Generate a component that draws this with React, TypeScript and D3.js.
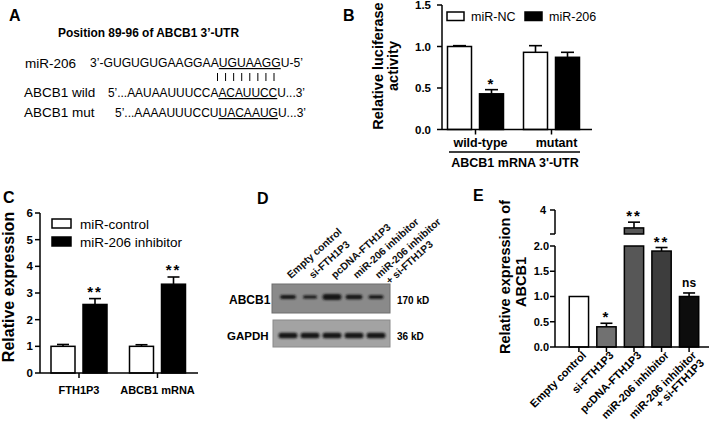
import React from 'react';
import * as d3 from 'd3';

const FONT = "'Liberation Sans', Arial, Helvetica, sans-serif";

// ---------- Panel A ----------
const aTitle = 'Position 89-96 of ABCB1 3’-UTR';
const aLabels = ['miR-206', 'ABCB1 wild', 'ABCB1 mut'];
const aSeqParts: string[][] = [
  ['3’-GUGUGUGAAGGAA', 'UGUAAGG', 'U-5’'],
  ['5’...AAUAAUUUCCA', 'ACAUUCC', 'U...3’'],
  ['5’...AAAAUUUCCU', 'UACAAUG', 'U...3’'],
];
const aPairs = 8;

// ---------- Panel B ----------
const bCategories = ['wild-type', 'mutant'];
const bSeries = ['miR-NC', 'miR-206'];
const bValues = [
  [1.0, 0.93], // miR-NC
  [0.43, 0.87], // miR-206
];
const bErrors = [
  [0.01, 0.08],
  [0.05, 0.06],
];
const bSig = [
  ['', ''],
  ['*', ''],
];
const bTicks = [0, 0.5, 1.0, 1.5];

// ---------- Panel C ----------
const cCategories = ['FTH1P3', 'ABCB1 mRNA'];
const cSeries = ['miR-control', 'miR-206 inhibitor'];
const cValues = [
  [1.0, 1.0],
  [2.57, 3.33],
];
const cErrors = [
  [0.07, 0.06],
  [0.22, 0.27],
];
const cSig = [
  ['', ''],
  ['**', '**'],
];
const cTicks = [0, 1, 2, 3, 4, 5, 6];

// ---------- Panel D ----------
const dLanes: string[][] = [
  ['Empty control'],
  ['si-FTH1P3'],
  ['pcDNA-FTH1P3'],
  ['miR-206 inhibitor'],
  ['miR-206 inhibitor', '+ si-FTH1P3'],
];
const dABCB1 = [0.55, 0.3, 1.0, 0.7, 0.45];
const dGAPDH = [1, 1, 1, 1, 1];

// ---------- Panel E ----------
const eCategories: string[][] = [
  ['Empty control'],
  ['si-FTH1P3'],
  ['pcDNA-FTH1P3'],
  ['miR-206 inhibitor'],
  ['miR-206 inhibitor', '+ si-FTH1P3'],
];
const eValues = [1.0, 0.4, 2.88, 1.9, 1.0];
const eErrors = [0, 0.07, 0.36, 0.07, 0.07];
const eSig = ['', '*', '**', '**', 'ns'];
const eColors = ['#ffffff', '#717171', '#575757', '#3d3d3d', '#0d0d0d'];
const eLowerTicks = [0, 0.5, 1.0, 1.5, 2.0];
const eUpperTicks = [4];

function ErrBar({ x, y0, y1, cap = 12 }: { x: number; y0: number; y1: number; cap?: number }) {
  return (
    <g stroke="#000" strokeWidth={1.6}>
      <line x1={x} x2={x} y1={y0} y2={y1} />
      <line x1={x - cap / 2} x2={x + cap / 2} y1={y1} y2={y1} />
    </g>
  );
}

function Sig({ x, y, t }: { x: number; y: number; t: string }) {
  if (!t) return null;
  const star = t.includes('*');
  return (
    <text
      x={x}
      y={star ? y + 1 : y - 4}
      textAnchor="middle"
      fontFamily={FONT}
      fontWeight="bold"
      fontSize={star ? 15 : 12}
      letterSpacing={star ? 2 : 0}
    >
      {t}
    </text>
  );
}

export default function App() {
  // ----- B -----
  const bX = d3.scalePoint<string>().domain(bCategories).range([475.5, 551.5]);
  const bInner = d3.scaleBand<string>().domain(bSeries).range([-28, 28]).paddingInner(0.25);
  const bY = d3.scaleLinear().domain([0, 1.5]).range([129.5, 5]);
  const bAxisX = 442;

  // ----- C -----
  const cX = d3.scalePoint<string>().domain(cCategories).range([79, 157.5]);
  const cInner = d3.scaleBand<string>().domain(cSeries).range([-28, 28]).paddingInner(0.25);
  const cY = d3.scaleLinear().domain([0, 6]).range([373, 213]);
  const cAxisX = 40;

  // ----- D -----
  const dX = d3.scaleBand<number>().domain(d3.range(dLanes.length)).range([277, 387]);

  // ----- E -----
  const eX = d3
    .scaleBand<number>()
    .domain(d3.range(eCategories.length))
    .range([561, 707])
    .padding(0.3);
  const eY = d3.scaleLinear().domain([0, 2]).range([347, 246]);
  const eY2 = d3.scaleLinear().domain([2.5, 4]).range([234, 210]);
  const eAxisX = 555;
  const yOf = (v: number) => (v <= 2 ? eY(v) : eY2(v));

  return (
    <div style={{ position: 'absolute', left: 0, top: 0 }}>
      <svg width={709} height={425} style={{ display: 'block', background: '#fff' }} fontFamily={FONT}>
        <defs>
          <filter id="blur" x="-30%" y="-100%" width="160%" height="300%">
            <feGaussianBlur stdDeviation="0.9" />
          </filter>
        </defs>

        {/* Panel letters */}
        {[
          ['A', 9, 21],
          ['B', 343, 21],
          ['C', 3, 203],
          ['D', 257, 204],
          ['E', 473, 201],
        ].map(([t, x, y]) => (
          <text key={t as string} x={x as number} y={y as number} fontSize={16} fontWeight="bold">
            {t}
          </text>
        ))}

        {/* ===== Panel A ===== */}
        <text x={58} y={37} fontSize={12} fontWeight="bold" textLength={181} lengthAdjust="spacingAndGlyphs">
          {aTitle}
        </text>
        {aLabels.map((l, i) => (
          <text key={l} x={i === 0 ? 25 : 24} y={[68, 97, 117][i]} fontSize={13.5}>
            {l}
          </text>
        ))}
        {aSeqParts.map((parts, i) => (
          <text
            key={i}
            x={[90, 108, 115][i]}
            y={[67, 97, 117][i]}
            fontSize={12}
            textLength={[213, 197, 191][i]}
            lengthAdjust="spacingAndGlyphs"
          >
            <tspan>{parts[0]}</tspan>
            <tspan style={{ textDecoration: 'underline' }}>{parts[1]}</tspan>
            <tspan>{parts[2]}</tspan>
          </text>
        ))}
        {d3.range(aPairs).map((i) => {
          const px = d3.scaleLinear().domain([0, aPairs - 1]).range([217.5, 274])(i);
          return <line key={i} x1={px} x2={px} y1={73} y2={81} stroke="#000" strokeWidth={1} />;
        })}

        {/* ===== Panel B ===== */}
        <g>
          <text transform={`translate(383,66) rotate(-90)`} textAnchor="middle" fontSize={14.5} fontWeight="bold">
            Relative luciferase
          </text>
          <text transform={`translate(398,66) rotate(-90)`} textAnchor="middle" fontSize={14.5} fontWeight="bold">
            activity
          </text>
          {bSeries.map((s, si) =>
            bCategories.map((c, ci) => {
              const x0 = (bX(c) as number) + (bInner(s) as number);
              const w = bInner.bandwidth();
              const v = bValues[si][ci];
              const e = bErrors[si][ci];
              return (
                <g key={s + c}>
                  <ErrBar x={x0 + w / 2} y0={bY(v)} y1={bY(v + e)} cap={13} />
                  <rect
                    x={x0}
                    y={bY(v)}
                    width={w}
                    height={bY(0) - bY(v)}
                    fill={si === 0 ? '#fff' : '#000'}
                    stroke="#000"
                    strokeWidth={1.5}
                  />
                  <Sig x={x0 + w / 2} y={bY(v + e) - 2} t={bSig[si][ci]} />
                </g>
              );
            })
          )}
          <line x1={bAxisX} x2={bAxisX} y1={bY(0)} y2={bY(1.5)} stroke="#000" strokeWidth={1.5} />
          <line x1={bAxisX} x2={592} y1={bY(0)} y2={bY(0)} stroke="#000" strokeWidth={1.5} />
          {bTicks.map((t) => (
            <g key={t}>
              <line x1={bAxisX - 5} x2={bAxisX} y1={bY(t)} y2={bY(t)} stroke="#000" strokeWidth={1.5} />
              <text x={bAxisX - 11} y={bY(t)} dy="0.36em" textAnchor="end" fontSize={11.5} fontWeight="bold">
                {t.toFixed(1)}
              </text>
            </g>
          ))}
          {bCategories.map((c) => (
            <g key={c}>
              <line x1={bX(c)} x2={bX(c)} y1={bY(0)} y2={bY(0) + 5} stroke="#000" strokeWidth={1.5} />
              <text x={(bX(c) as number) + 5} y={147} textAnchor="middle" fontSize={12.5} fontWeight="bold">
                {c}
              </text>
            </g>
          ))}
          <line x1={449} x2={580} y1={152} y2={152} stroke="#000" strokeWidth={1.3} />
          <text x={515} y={167} textAnchor="middle" fontSize={12.5} fontWeight="bold">
            ABCB1 mRNA 3'-UTR
          </text>
          {bSeries.map((s, i) => (
            <g key={s} transform={`translate(${[447, 525][i]},12)`}>
              <rect x={0} y={0} width={17} height={8.5} fill={i === 0 ? '#fff' : '#000'} stroke="#000" strokeWidth={1.5} />
              <text x={24} y={9} fontSize={12.5}>
                {s}
              </text>
            </g>
          ))}
        </g>

        {/* ===== Panel C ===== */}
        <g>
          <text transform={`translate(14,287) rotate(-90)`} textAnchor="middle" fontSize={16} fontWeight="bold">
            Relative expression
          </text>
          {cSeries.map((s, si) =>
            cCategories.map((c, ci) => {
              const x0 = (cX(c) as number) + (cInner(s) as number);
              const w = cInner.bandwidth();
              const v = cValues[si][ci];
              const e = cErrors[si][ci];
              return (
                <g key={s + c}>
                  <ErrBar x={x0 + w / 2} y0={cY(v)} y1={cY(v + e)} cap={12} />
                  <rect
                    x={x0}
                    y={cY(v)}
                    width={w}
                    height={cY(0) - cY(v)}
                    fill={si === 0 ? '#fff' : '#000'}
                    stroke="#000"
                    strokeWidth={1.5}
                  />
                  <Sig x={x0 + w / 2} y={cY(v + e) - 3} t={cSig[si][ci]} />
                </g>
              );
            })
          )}
          <line x1={cAxisX} x2={cAxisX} y1={cY(0)} y2={cY(6)} stroke="#000" strokeWidth={1.5} />
          <line x1={cAxisX} x2={198} y1={cY(0)} y2={cY(0)} stroke="#000" strokeWidth={1.5} />
          {cTicks.map((t) => (
            <g key={t}>
              <line x1={cAxisX - 5} x2={cAxisX} y1={cY(t)} y2={cY(t)} stroke="#000" strokeWidth={1.5} />
              <text x={cAxisX - 7} y={cY(t)} dy="0.36em" textAnchor="end" fontSize={11.5} fontWeight="bold">
                {t}
              </text>
            </g>
          ))}
          {cCategories.map((c) => (
            <g key={c}>
              <line x1={cX(c)} x2={cX(c)} y1={cY(0)} y2={cY(0) + 5} stroke="#000" strokeWidth={1.5} />
              <text x={cX(c)} y={394} textAnchor="middle" fontSize={11} fontWeight="bold">
                {c}
              </text>
            </g>
          ))}
          {cSeries.map((s, i) => (
            <g key={s} transform={`translate(52,${219 + i * 18})`}>
              <rect x={0} y={0} width={19} height={9} fill={i === 0 ? '#fff' : '#000'} stroke="#000" strokeWidth={1.5} />
              <text x={28} y={9.5} fontSize={13.5}>
                {s}
              </text>
            </g>
          ))}
        </g>

        {/* ===== Panel D ===== */}
        <g>
          {dLanes.map((lines, i) => {
            const lx = (dX(i) as number) + dX.bandwidth() / 2 + 3;
            return (
              <text
                key={i}
                transform={`translate(${lx},279) rotate(-42)`}
                fontSize={10.3}
                fontWeight="bold"
                fill="#111"
              >
                {lines.map((ln, j) => (
                  <tspan key={j} x={j * 4} dy={j === 0 ? 0 : 11.5}>
                    {ln}
                  </tspan>
                ))}
              </text>
            );
          })}
          <rect x={272} y={284} width={118} height={29} fill="#8a8a8a" stroke="#6e6e6e" strokeWidth={1} />
          <rect x={273} y={320} width={117} height={27} fill="#a3a3a3" stroke="#8a8a8a" strokeWidth={1} />
          {dABCB1.map((v, i) => {
            const cx = (dX(i) as number) + dX.bandwidth() / 2;
            const w = 12 + 7 * v;
            const h = 1.8 + 4 * v;
            return (
              <rect
                key={'a' + i}
                x={cx - w / 2}
                y={297 - h / 2}
                width={w}
                height={h}
                rx={h / 2}
                fill="#151515"
                filter="url(#blur)"
              />
            );
          })}
          {dGAPDH.map((v, i) => {
            const cx = (dX(i) as number) + dX.bandwidth() / 2;
            const w = 19 * v;
            const h = 5.5 * v;
            return (
              <rect
                key={'g' + i}
                x={cx - w / 2}
                y={335.5 - h / 2}
                width={w}
                height={h}
                rx={2.5}
                fill="#151515"
                filter="url(#blur)"
              />
            );
          })}
          <text x={229} y={304} fontSize={12} fontWeight="bold">
            ABCB1
          </text>
          <text x={227} y={340} fontSize={11.5} fontWeight="bold">
            GAPDH
          </text>
          <text x={397} y={304} fontSize={10} fontWeight="bold">
            170 kD
          </text>
          <text x={397} y={340} fontSize={10} fontWeight="bold">
            36 kD
          </text>
        </g>

        {/* ===== Panel E ===== */}
        <g>
          <text transform={`translate(509.5,277) rotate(-90)`} textAnchor="middle" fontSize={14.5} fontWeight="bold">
            Relative expression of
          </text>
          <text transform={`translate(526,282) rotate(-90)`} textAnchor="middle" fontSize={14.5} fontWeight="bold">
            ABCB1
          </text>
          {eValues.map((v, i) => {
            const x0 = eX(i) as number;
            const w = eX.bandwidth();
            const e = eErrors[i];
            const top = v + e;
            const broken = v > 2;
            return (
              <g key={i}>
                {e > 0 && <ErrBar x={x0 + w / 2} y0={yOf(v)} y1={yOf(top)} cap={12} />}
                {broken ? (
                  <>
                    <rect x={x0} y={eY(2)} width={w} height={eY(0) - eY(2)} fill={eColors[i]} stroke="#000" strokeWidth={1.5} />
                    <rect x={x0} y={eY2(v)} width={w} height={eY2(2.5) - eY2(v)} fill={eColors[i]} stroke="#000" strokeWidth={1.5} />
                  </>
                ) : (
                  <rect x={x0} y={eY(v)} width={w} height={eY(0) - eY(v)} fill={eColors[i]} stroke="#000" strokeWidth={1.5} />
                )}
                <Sig x={x0 + w / 2} y={yOf(top) - 2} t={eSig[i]} />
              </g>
            );
          })}
          <line x1={eAxisX} x2={eAxisX} y1={eY(0)} y2={eY(2)} stroke="#000" strokeWidth={1.5} />
          <line x1={eAxisX} x2={eAxisX} y1={eY2(2.5)} y2={eY2(4)} stroke="#000" strokeWidth={1.5} />
          <line x1={eAxisX - 5} x2={eAxisX} y1={eY2(2.5)} y2={eY2(2.5)} stroke="#000" strokeWidth={1.5} />
          <line x1={eAxisX} x2={709} y1={eY(0)} y2={eY(0)} stroke="#000" strokeWidth={1.5} />
          {eLowerTicks.map((t) => (
            <g key={'l' + t}>
              <line x1={eAxisX - 5} x2={eAxisX} y1={eY(t)} y2={eY(t)} stroke="#000" strokeWidth={1.5} />
              <text x={eAxisX - 6} y={eY(t)} dy="0.36em" textAnchor="end" fontSize={11} fontWeight="bold">
                {t.toFixed(1)}
              </text>
            </g>
          ))}
          {eUpperTicks.map((t) => (
            <g key={'u' + t}>
              <line x1={eAxisX - 5} x2={eAxisX} y1={eY2(t)} y2={eY2(t)} stroke="#000" strokeWidth={1.5} />
              <text x={eAxisX - 9} y={eY2(t)} dy="0.36em" textAnchor="end" fontSize={11} fontWeight="bold">
                {t}
              </text>
            </g>
          ))}
          {eCategories.map((lines, i) => {
            const cx = (eX(i) as number) + eX.bandwidth() / 2;
            return (
              <g key={i}>
                <line x1={cx} x2={cx} y1={eY(0)} y2={eY(0) + 5} stroke="#000" strokeWidth={1.5} />
                <text
                  transform={`translate(${cx + 8},356) rotate(-45)`}
                  textAnchor="end"
                  fontSize={11}
                  fontWeight="bold"
                >
                  {lines.map((ln, j) => (
                    <tspan key={j} x={0} dy={j === 0 ? 0 : 11}>
                      {ln}
                    </tspan>
                  ))}
                </text>
              </g>
            );
          })}
        </g>
      </svg>
    </div>
  );
}
